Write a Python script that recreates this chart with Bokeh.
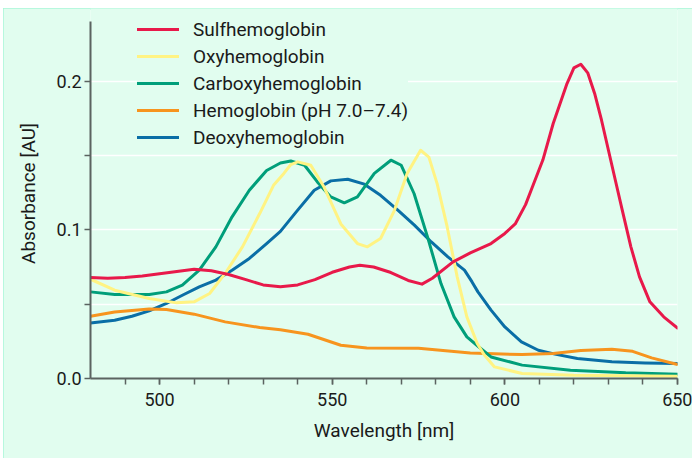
from bokeh.plotting import figure
from bokeh.models import Legend, LegendItem, FixedTicker, Range1d, PrintfTickFormatter
from bokeh.embed import file_html
from bokeh.resources import INLINE

# ---- data ----
sulf_nm = [480, 485, 490, 495, 500, 505, 510, 515, 520, 525, 530, 535, 540, 545, 550, 555, 558, 562,
           567, 572, 576, 579, 585, 590, 596, 600, 603, 606, 608, 611, 614, 618, 620, 622, 624, 626,
           628, 630, 632, 634, 636.5, 639, 642, 646, 650]
sulf_ab = [0.068, 0.0675, 0.068, 0.069, 0.0705, 0.072, 0.0735, 0.0725, 0.070, 0.0665, 0.063, 0.0618,
           0.063, 0.0665, 0.0715, 0.075, 0.0762, 0.075, 0.0713, 0.066, 0.0635, 0.0675, 0.0785, 0.0845,
           0.0908, 0.0976, 0.104, 0.117, 0.129, 0.147, 0.1716, 0.1985, 0.209, 0.2115, 0.2057, 0.1918,
           0.1738, 0.1536, 0.1334, 0.1133, 0.0886, 0.0684, 0.0516, 0.0415, 0.034]

oxy_nm = [480, 487, 497, 505, 510, 514.5, 519, 524, 529, 533, 536, 538, 540, 543.8, 547.6, 552.5,
          557.3, 560.2, 564, 568, 571.7, 575.6, 578, 580.4, 583.3, 586.2, 589, 592, 594, 597, 605, 620, 650]
oxy_ab = [0.0668, 0.0594, 0.0538, 0.0509, 0.0516, 0.0572, 0.0707, 0.0886, 0.111, 0.130, 0.138, 0.144,
          0.1458, 0.1435, 0.129, 0.104, 0.0908, 0.0886, 0.0942, 0.113, 0.138, 0.1536, 0.149, 0.131,
          0.102, 0.0684, 0.0415, 0.0236, 0.016, 0.0078, 0.0034, 0.0022, 0.0015]

carb_nm = [480, 487, 497, 502, 506.6, 511.5, 516.3, 521, 526, 531, 535, 538, 542, 545.7, 549.6, 553.5,
           557.3, 562.2, 567, 570, 573.7, 577.6, 581.5, 585.3, 589, 593, 596, 605, 619, 635, 650]
carb_ab = [0.0583, 0.0565, 0.0565, 0.0583, 0.0628, 0.0729, 0.0886, 0.1088, 0.1267, 0.140, 0.145,
           0.1464, 0.1435, 0.1323, 0.1222, 0.1182, 0.1222, 0.138, 0.1469, 0.1435, 0.1245, 0.0953,
           0.0639, 0.0415, 0.028, 0.0202, 0.0145, 0.009, 0.0056, 0.0038, 0.0029]

hb_nm = [480, 487, 497, 502, 510, 519, 529, 535, 543, 552.5, 560, 575, 590, 605, 614, 622, 631, 637,
         642.5, 650]
hb_ab = [0.0419, 0.0448, 0.0468, 0.0464, 0.0433, 0.0381, 0.0343, 0.0328, 0.0298, 0.0224, 0.0206,
         0.0204, 0.0172, 0.0161, 0.0168, 0.0188, 0.0197, 0.0183, 0.0139, 0.0094]

deoxy_nm = [480, 487, 492, 497, 502, 506.6, 511.5, 516.3, 521, 526, 531, 535, 540, 544.8, 549.6, 554.5,
            559.3, 564, 569, 573.8, 578.7, 583.5, 588.3, 590.5, 592.2, 596, 600, 604.8, 609.7, 614.5,
            621, 631, 640.6, 650]
deoxy_ab = [0.0374, 0.0392, 0.0419, 0.0455, 0.0505, 0.056, 0.0617, 0.0662, 0.0729, 0.0808, 0.0908,
            0.099, 0.1133, 0.1267, 0.133, 0.1341, 0.1308, 0.1233, 0.1133, 0.1032, 0.0919, 0.0818,
            0.0729, 0.065, 0.0583, 0.046, 0.0347, 0.0246, 0.019, 0.0164, 0.0135, 0.0112, 0.0105, 0.0101]

labels = ["Sulfhemoglobin", "Oxyhemoglobin", "Carboxyhemoglobin", "Hemoglobin (pH 7.0\u20137.4)",
          "Deoxyhemoglobin"]
colors = ["#e8194a", "#fff383", "#009e7a", "#f7941e", "#0a6ea6"]

x_major = [500, 550, 600, 650]
x_minor = [490, 500, 510, 520, 530, 540, 550, 560, 570, 580, 590, 600, 610, 620, 630, 640, 650]
y_major = [0.0, 0.1, 0.2]
y_minor = [0.05, 0.15]
y_axis_top = 0.24

BG = "#e1fdef"
AX = "#5b6360"
FONT = "Roboto"

p = figure(width=689, height=450, output_backend="svg", toolbar_location=None,
           x_range=Range1d(480, 650), y_range=Range1d(0, 0.249),
           min_border_left=87, min_border_top=0, min_border_right=15, min_border_bottom=80)
p.margin = (8, 0, 0, 3)
p.styles = {"outline": "2px solid #a8f6d8", "outline-offset": "-2px"}
p.background_fill_color = BG
p.border_fill_color = BG
p.outline_line_color = None

p.xgrid.grid_line_color = None
p.ygrid.grid_line_color = "white"
p.ygrid.grid_line_width = 1.5
p.ygrid.minor_grid_line_color = "white"
p.ygrid.minor_grid_line_width = 1.5

p.xaxis.ticker = FixedTicker(ticks=x_major, minor_ticks=x_minor)
p.yaxis.ticker = FixedTicker(ticks=y_major, minor_ticks=y_minor)
p.yaxis.formatter = PrintfTickFormatter(format="%.1f")
p.yaxis.bounds = (0, y_axis_top)

for ax in (p.xaxis, p.yaxis):
    ax.axis_line_color = AX
    ax.axis_line_width = 2
    ax.major_tick_line_color = AX
    ax.major_tick_line_width = 1.5
    ax.minor_tick_line_color = AX
    ax.minor_tick_line_width = 1.5
    ax.major_tick_in = 0
    ax.major_tick_out = 6
    ax.minor_tick_in = 0
    ax.minor_tick_out = 6
    ax.major_label_text_font = FONT
    ax.major_label_text_font_size = "18px"
    ax.major_label_text_color = "#1a1a1a"
    ax.axis_label_text_font = FONT
    ax.axis_label_text_font_size = "19px"
    ax.axis_label_text_font_style = "normal"
    ax.axis_label_text_color = "#1a1a1a"

p.xaxis.axis_label = "Wavelength [nm]"
p.yaxis.axis_label = "Absorbance [AU]"
p.xaxis.major_label_standoff = 8
p.yaxis.major_label_standoff = 3
p.xaxis.axis_label_standoff = 10
p.yaxis.axis_label_standoff = 14

series = [(sulf_nm, sulf_ab), (oxy_nm, oxy_ab), (carb_nm, carb_ab), (hb_nm, hb_ab), (deoxy_nm, deoxy_ab)]
renderers = [None] * 5
for i in [4, 3, 2, 1, 0]:
    xs, ys = series[i]
    renderers[i] = p.line(xs, ys, line_color=colors[i], line_width=3, line_join="round", line_cap="round")

legend = Legend(items=[LegendItem(label=labels[i], renderers=[renderers[i]]) for i in range(5)],
                location=(47, 229), padding=13, margin=0, spacing=3,
                glyph_width=42, glyph_height=24, label_height=24, label_standoff=14,
                background_fill_color=BG, background_fill_alpha=1, border_line_color=None,
                label_text_font=FONT, label_text_font_size="19px", label_text_color="#1a1a1a")
p.add_layout(legend, "center")

open("out.html", "w").write(file_html(p, INLINE))
